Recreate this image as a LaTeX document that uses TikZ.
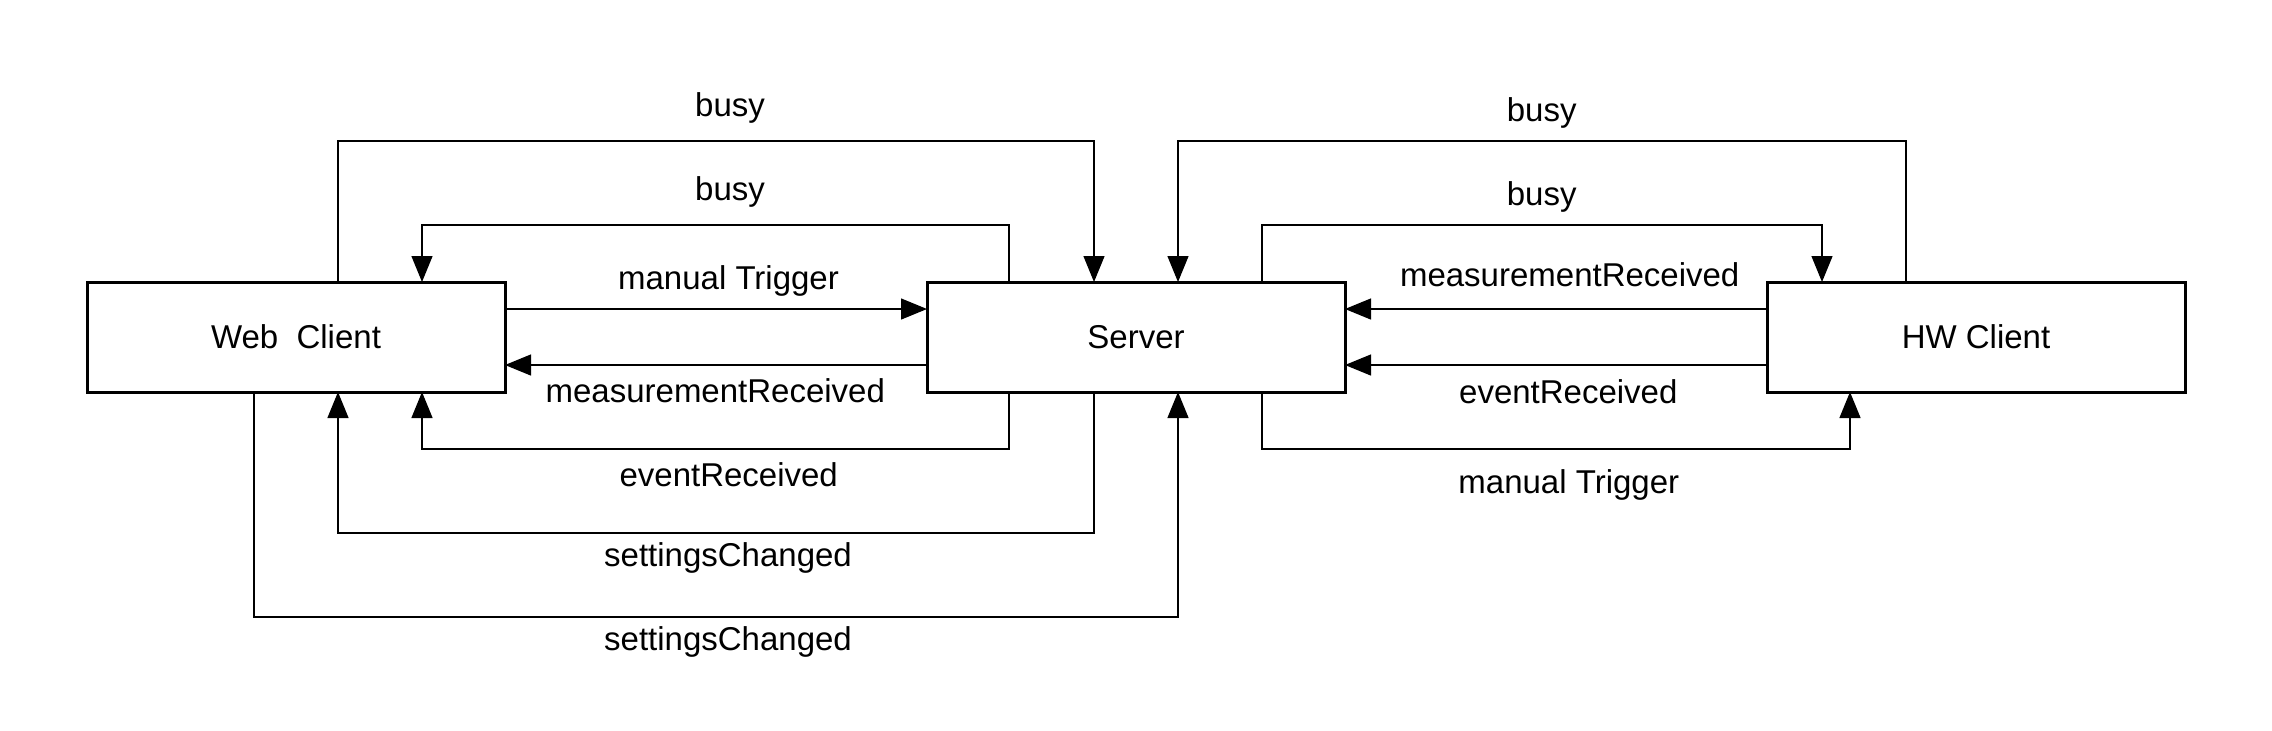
\documentclass[tikz,border=0pt]{standalone}
\usepackage{fontspec}
\setmainfont{Liberation Sans}
\usetikzlibrary{arrows.meta,calc}
\newcommand\lblfont{\fontsize{16.5pt}{19.8pt}\selectfont}
\begin{document}
\begin{tikzpicture}[x=0.5pt,y=-0.5pt,
  box/.style={draw,line width=1.5pt,minimum width=209pt,minimum height=55pt,inner sep=0pt,outer sep=0pt,font=\lblfont},
  conn/.style={line width=0.65pt,-{Triangle[length=13pt,width=10.5pt]}},
  lbl/.style={anchor=base,inner sep=0pt,font=\lblfont}]
\useasboundingbox[fill=white] (0,0) rectangle (2272,730);
\node[box] (web) at (296,337) {Web\ \ Client};
\node[box] (server) at (1136,337) {Server};
\node[box] (hw) at (1976,337) {HW Client};
% left side connectors
\draw[conn] ($(web.north)+(42,0)$) -- ++(0,-141) -| ($(server.north)+(-42,0)$);
\draw[conn] ($(server.north)+(-127,0)$) -- ++(0,-57) -| ($(web.north)+(126,0)$);
\draw[conn] ($(web.east)+(0,-28)$) -- ($(server.west)+(0,-28)$);
\draw[conn] ($(server.west)+(0,28)$) -- ($(web.east)+(0,28)$);
\draw[conn] ($(server.south)+(-127,0)$) -- ++(0,57) -| ($(web.south)+(126,0)$);
\draw[conn] ($(server.south)+(-42,0)$) -- ++(0,141) -| ($(web.south)+(42,0)$);
\draw[conn] ($(web.south)+(-42,0)$) -- ++(0,225) -| ($(server.south)+(42,0)$);
% right side connectors
\draw[conn] ($(hw.north)+(-70,0)$) -- ++(0,-141) -| ($(server.north)+(42,0)$);
\draw[conn] ($(server.north)+(126,0)$) -- ++(0,-57) -| ($(hw.north)+(-154,0)$);
\draw[conn] ($(hw.west)+(0,-28)$) -- ($(server.east)+(0,-28)$);
\draw[conn] ($(hw.west)+(0,28)$) -- ($(server.east)+(0,28)$);
\draw[conn] ($(server.south)+(126,0)$) -- ++(0,57) -| ($(hw.south)+(-126,0)$);
% labels left
\node[lbl] (l1) at (730,116) {busy};
\node[lbl] (l2) at (730,200) {busy};
\node[lbl] (l3) at (728.5,289) {manual Trigger};
\node[lbl] (l4) at (715.3,402.3) {measurementReceived};
\node[lbl] (l5) at (728.7,486) {eventReceived};
\node[lbl] (l6) at (728,566.7) {settingsChanged};
\node[lbl] (l7) at (728,650.7) {settingsChanged};
% labels right
\node[lbl] (r1) at (1541.7,121.7) {busy};
\node[lbl] (r2) at (1541.7,205.7) {busy};
\node[lbl] (r3) at (1569.7,286.7) {measurementReceived};
\node[lbl] (r4) at (1568.3,403.3) {eventReceived};
\node[lbl] (r5) at (1568.8,493.3) {manual Trigger};
\end{tikzpicture}
\end{document}
